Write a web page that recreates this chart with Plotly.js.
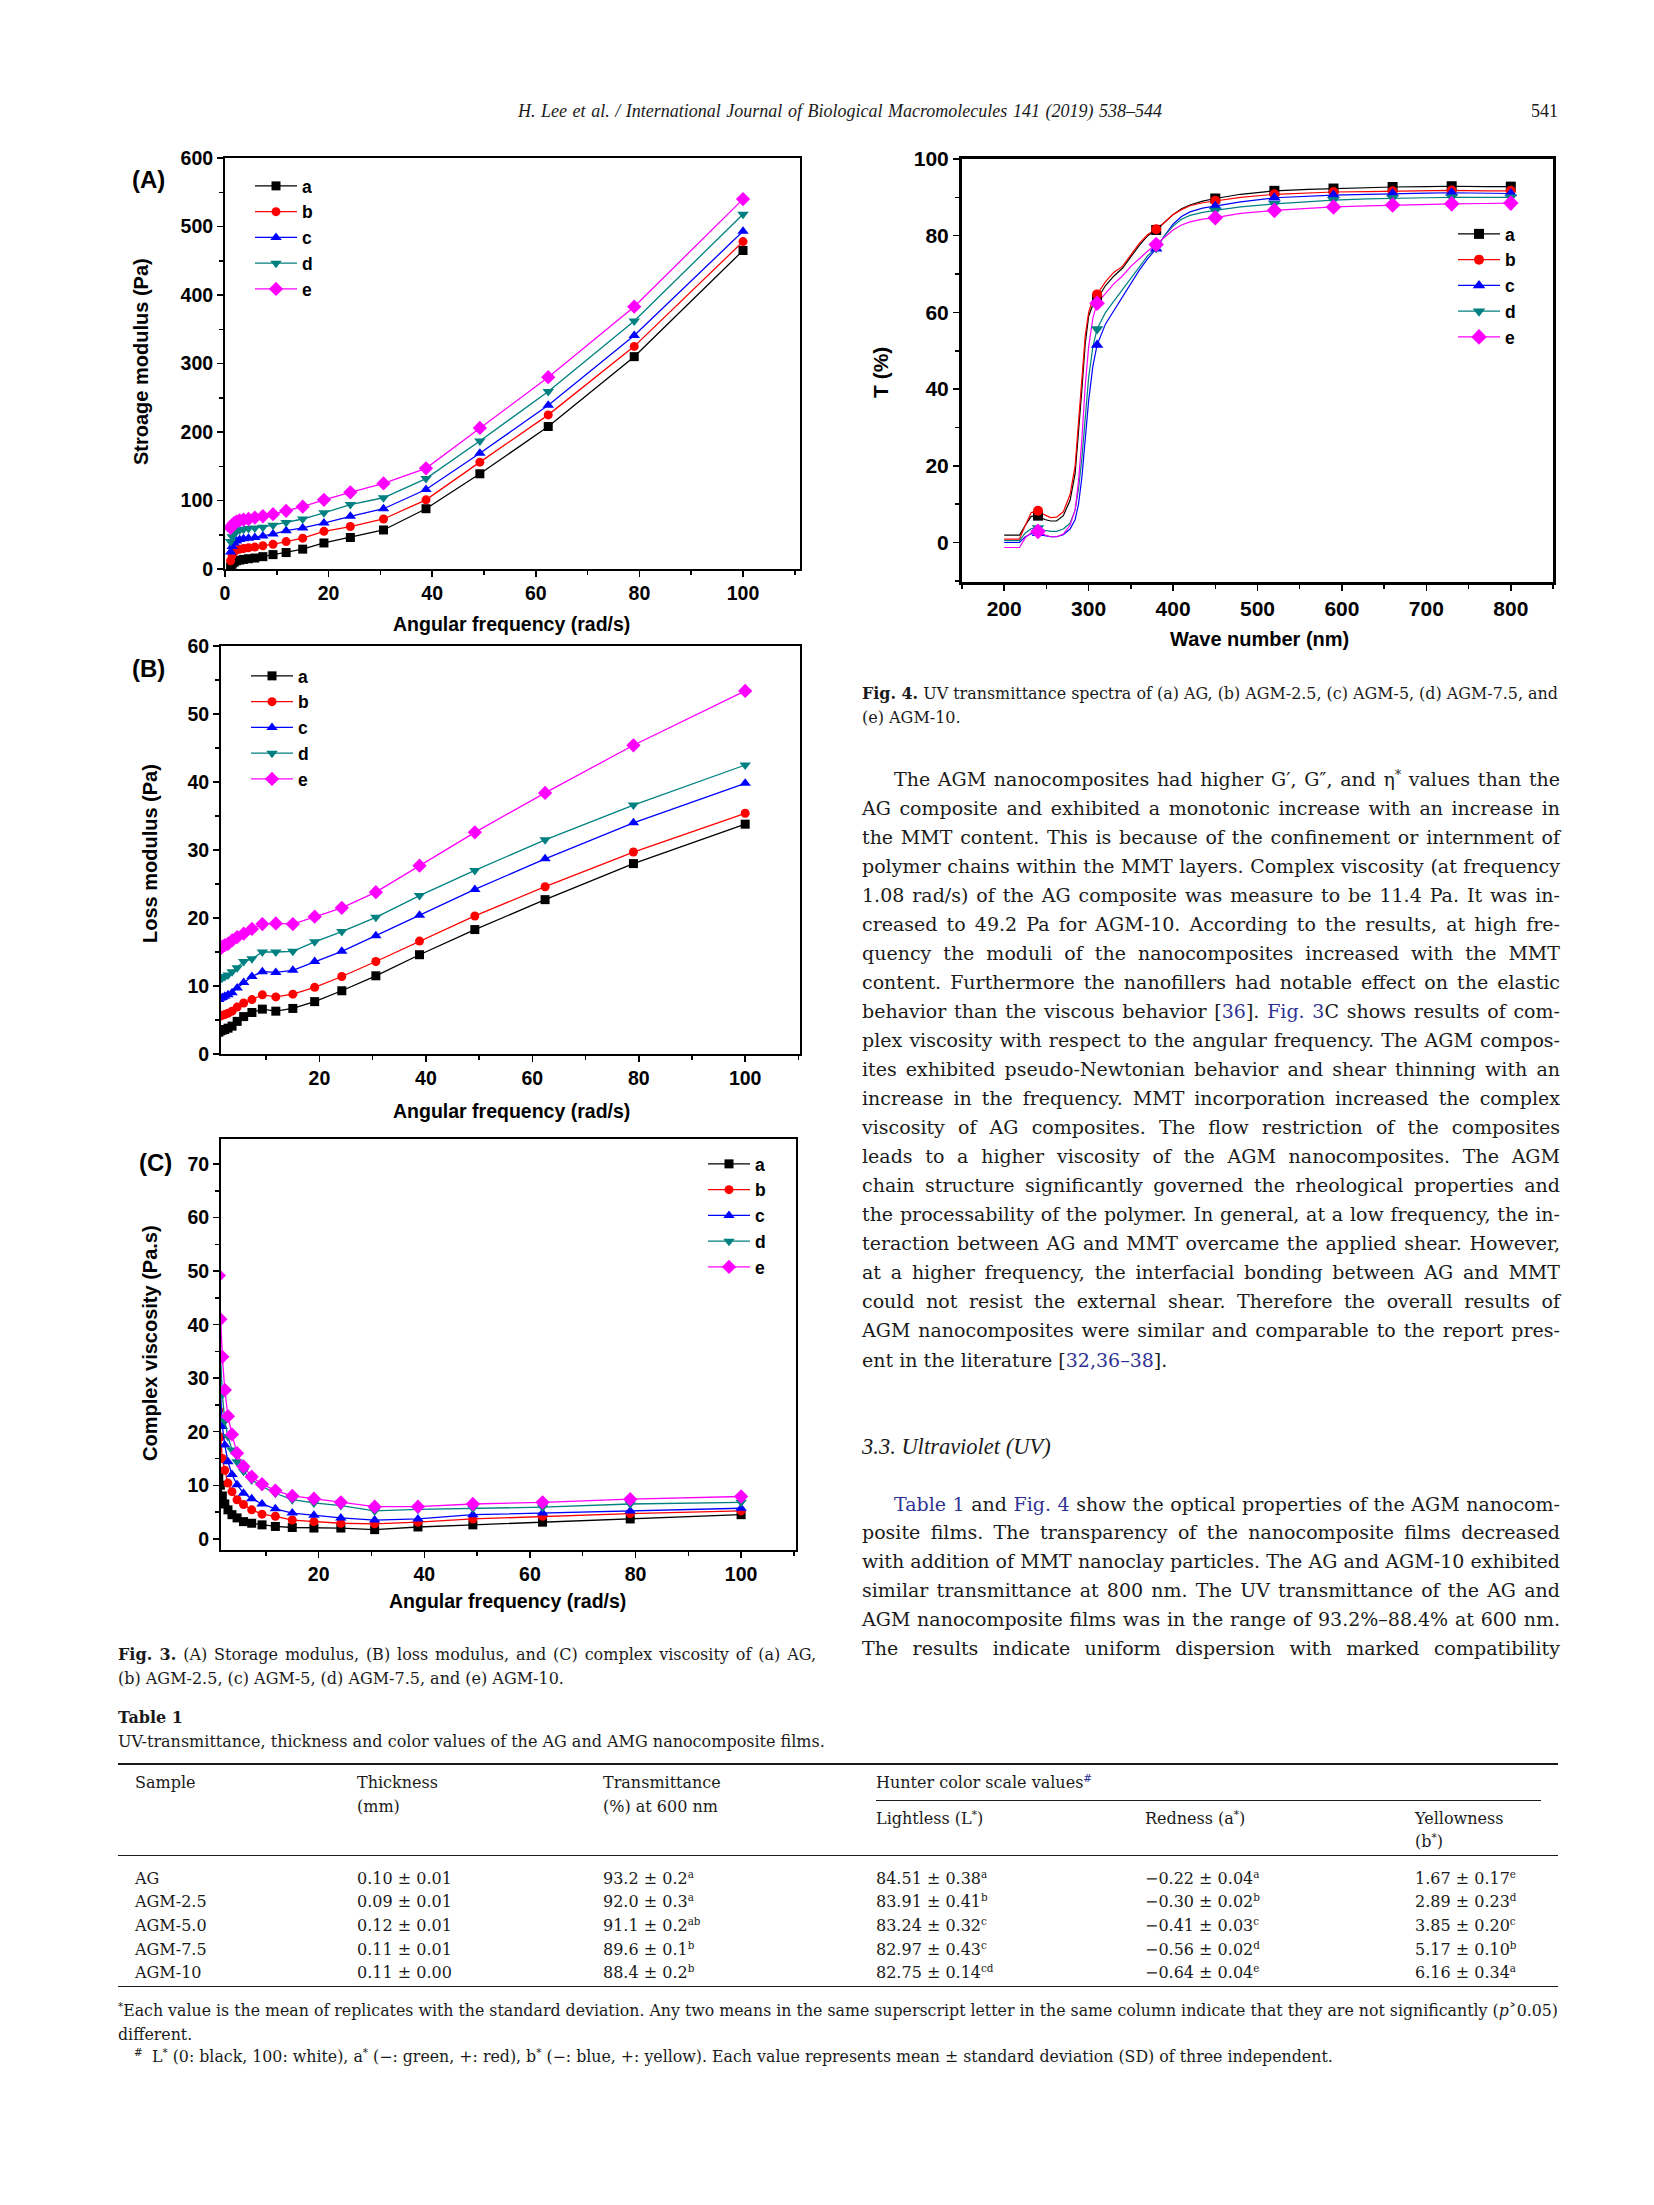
<!DOCTYPE html>
<html><head><meta charset="utf-8">
<script src="https://cdn.plot.ly/plotly-3.0.1.min.js"></script>
<style>
body{margin:0;background:#fff;}
#page{position:relative;width:1654px;height:2205px;overflow:hidden;background:#fff;}
#plot{position:absolute;left:0;top:0;width:1654px;height:2205px;}
.tx{position:absolute;white-space:nowrap;color:#1a1a1a;font-family:"DejaVu Serif",serif;}
.lib{font-family:"Liberation Serif","Times New Roman",serif;}
.tx span.l{display:inline-block;}
.lk{color:#2e3192;}
sup{font-size:65%;line-height:0;vertical-align:0.55em;}
.rule{position:absolute;background:#1a1a1a;}
</style></head>
<body><div id="page"><div id="plot"></div></div>
<script>
// ---------------- DATA ----------------
const seriesNames = ['a','b','c','d','e'];
const freq = [1.08, 1.38, 1.75, 2.22, 2.82, 3.58, 4.54, 5.76, 7.31, 9.27, 11.8, 15.0, 19.1, 24.2, 30.6, 38.8, 49.2, 62.4, 79.0, 100];
// (A) storage modulus (Pa)
const gA_a = [3, 7, 10, 12, 13, 14, 15, 16, 18, 21, 24, 29, 38, 46, 57, 88, 139, 208, 310, 465];
const gA_b = [12, 20, 25, 28, 29, 30, 31, 32, 34, 36, 40, 45, 55, 62, 73, 101, 156, 225, 325, 478];
const gA_c = [25, 33, 38, 41, 43, 44, 45, 46, 48, 51, 56, 60, 67, 77, 88, 116, 169, 239, 341, 493];
const gA_d = [40, 47, 52, 55, 57, 58, 59, 60, 61, 64, 68, 73, 82, 94, 104, 132, 187, 259, 362, 518];
const gA_e = [60, 64, 67, 69, 71, 72, 73, 75, 77, 80, 85, 91, 101, 112, 125, 147, 206, 280, 383, 540];
// (B) loss modulus (Pa)
const gB_a = [3.2, 3.4, 3.5, 3.6, 3.8, 4.1, 4.8, 5.5, 6.1, 6.6, 6.3, 6.7, 7.7, 9.3, 11.5, 14.6, 18.3, 22.7, 28.0, 33.8];
const gB_b = [5.5, 5.6, 5.7, 5.8, 6.0, 6.3, 6.9, 7.5, 8.0, 8.7, 8.4, 8.8, 9.8, 11.4, 13.6, 16.6, 20.3, 24.6, 29.7, 35.4];
const gB_c = [8.0, 8.2, 8.3, 8.5, 8.7, 9.0, 9.7, 10.5, 11.4, 12.1, 12.0, 12.3, 13.6, 15.1, 17.4, 20.4, 24.2, 28.7, 34.0, 39.8];
const gB_d = [10.8, 11.0, 11.2, 11.4, 11.6, 12.1, 12.7, 13.6, 14.0, 15.0, 15.0, 15.1, 16.5, 18.0, 20.1, 23.3, 27.0, 31.5, 36.6, 42.5];
const gB_e = [15.3, 15.5, 15.8, 16.0, 16.2, 16.7, 17.2, 17.7, 18.4, 19.1, 19.2, 19.1, 20.2, 21.5, 23.8, 27.7, 32.6, 38.4, 45.4, 53.4];
// (C) complex viscosity (Pa.s)
const vC_a = [11.4, 10.0, 8.0, 6.5, 5.4, 4.5, 3.9, 3.2, 2.9, 2.6, 2.3, 2.1, 2.0, 2.0, 1.7, 2.2, 2.6, 3.1, 3.7, 4.5];
const vC_b = [24.0, 19.0, 15.0, 12.8, 10.4, 8.8, 7.3, 6.4, 5.4, 4.6, 4.2, 3.5, 3.2, 2.9, 2.8, 3.1, 3.7, 4.2, 4.7, 5.2];
const vC_c = [34.0, 27.0, 21.0, 17.5, 14.4, 12.0, 10.1, 8.5, 7.5, 6.5, 5.6, 4.8, 4.4, 3.9, 3.5, 3.7, 4.5, 4.8, 5.2, 5.7];
const vC_d = [41.0, 34.0, 27.0, 22.0, 19.1, 16.6, 14.4, 12.6, 11.0, 9.8, 8.5, 7.3, 6.7, 6.2, 5.2, 5.5, 5.7, 5.9, 6.5, 6.8];
const vC_e = [49.2, 41.0, 34.0, 27.8, 22.9, 19.5, 16.0, 13.5, 11.6, 10.2, 9.0, 8.0, 7.5, 6.8, 6.0, 6.0, 6.5, 6.8, 7.4, 7.9];
// Fig. 4 UV transmittance (%) spectra
const wl = [200, 210, 218, 225, 232, 240, 248, 255, 262, 270, 278, 284, 288, 292, 296, 300, 305, 310, 320, 330, 340, 350, 360, 370, 380, 390, 400, 410, 420, 435, 450, 480, 520, 560, 590, 630, 660, 700, 730, 770, 800];
const uv_a = [1.9,1.9,1.9,4.5,6.8, 7.0,6.0,5.6,5.6,7.0, 11,18,28,40,52, 59,62,63.5,67,69.5, 71.5,74.5,77.5,80,81.5, 83.5,85.5,87,88,89, 89.7,90.8,91.7,92.1,92.3, 92.5,92.7,92.8,92.9,92.8, 92.8];
const uv_b = [0.9,0.9,0.9,4.5,7.8, 8.3,7.2,6.5,6.6,8.0, 12.5,20,31,43,54, 60,63.5,64.7,68,70.5, 72,75,78,80.3,81.7, 83.5,85.5,86.8,87.8,88.6, 89.1,90.0,90.8,91.2,91.4, 91.5,91.6,91.7,91.8,91.7, 91.7];
const uv_c = [0.0,0.0,0.0,1.5,2.3, 2.4,1.8,1.5,1.5,2.0, 3.5,6,10,17,27, 37,46,51.5,57,60.5, 64,67.5,71,74,76.6, 80,83,85,86.2,87.2, 87.7,88.8,89.9,90.3,90.6, 90.8,91.0,91.1,91.2,91.1, 91.0];
const uv_d = [0.5,0.5,0.5,2.5,3.6, 3.8,3.2,2.9,2.9,3.5, 5,8.5,14,22,33, 43,51,55.7,60,63, 66,69,72,74.8,76.8, 80,82.5,84.3,85.3,86.1, 86.6,87.5,88.3,88.9,89.3, 89.6,89.8,89.9,90.0,90.0, 90.0];
const uv_e = [-1.3,-1.3,-1.3,1.2,2.6, 2.9,2.0,1.5,1.5,2.2, 4.5,8.5,16,27,41, 51,58.5,62.4,65,67.5, 69.5,72,74,76,77.7, 79.5,81.5,82.8,83.6,84.3, 84.7,85.8,86.6,87.1,87.5, 87.8,88.0,88.2,88.3,88.4, 88.5];
const wlMark = [240, 310, 380, 450, 520, 590, 660, 730, 800];
const uvM_a = [7.0, 63.5, 81.5, 89.7, 91.7, 92.3, 92.7, 92.9, 92.8];
const uvM_b = [8.3, 64.7, 81.7, 89.1, 90.8, 91.4, 91.6, 91.8, 91.7];
const uvM_c = [2.4, 51.5, 76.6, 87.7, 89.9, 90.6, 91.0, 91.2, 91.0];
const uvM_d = [3.8, 55.7, 76.8, 86.6, 88.3, 89.3, 89.8, 90.0, 90.0];
const uvM_e = [2.9, 62.4, 77.7, 84.7, 86.6, 87.5, 88.0, 88.3, 88.5];
// Table 1
const tSample = ['AG','AGM-2.5','AGM-5.0','AGM-7.5','AGM-10'];
const tThick = ['0.10 ± 0.01','0.09 ± 0.01','0.12 ± 0.01','0.11 ± 0.01','0.11 ± 0.00'];
const tTrans = ['93.2 ± 0.2<sup>a</sup>','92.0 ± 0.3<sup>a</sup>','91.1 ± 0.2<sup>ab</sup>','89.6 ± 0.1<sup>b</sup>','88.4 ± 0.2<sup>b</sup>'];
const tL = ['84.51 ± 0.38<sup>a</sup>','83.91 ± 0.41<sup>b</sup>','83.24 ± 0.32<sup>c</sup>','82.97 ± 0.43<sup>c</sup>','82.75 ± 0.14<sup>cd</sup>'];
const tA = ['−0.22 ± 0.04<sup>a</sup>','−0.30 ± 0.02<sup>b</sup>','−0.41 ± 0.03<sup>c</sup>','−0.56 ± 0.02<sup>d</sup>','−0.64 ± 0.04<sup>e</sup>'];
const tB = ['1.67 ± 0.17<sup>e</sup>','2.89 ± 0.23<sup>d</sup>','3.85 ± 0.20<sup>c</sup>','5.17 ± 0.10<sup>b</sup>','6.16 ± 0.34<sup>a</sup>'];

// ---------------- STYLE ----------------
const colors = ['#000000','#ff0000','#0000ff','#008080','#ff00ff'];
const symbols = ['square','circle','triangle-up','triangle-down','diamond'];
const msizes = [9, 9, 10, 10, 11];
const W = 1654, H = 2205;
const SANS = '"Liberation Sans", Arial, sans-serif';
function dx(l, r){ return [l/W, r/W]; }
function dy(t, b){ return [1-b/H, 1-t/H]; }
function px(x){ return x/W; }
function py(y){ return 1-y/H; }
function axis(dom, range, dtick, mdtick, anchor, lw, fs){
  return {domain: dom, range: range, anchor: anchor, dtick: dtick, tick0: 0,
    showline: true, linewidth: lw, linecolor: '#000', mirror: true,
    ticks: 'outside', ticklen: 6, tickwidth: 1.5, tickcolor: '#000',
    showgrid: false, zeroline: false, fixedrange: true,
    tickfont: {family: SANS, size: fs, color: '#000', weight: 'bold'},
    minor: {dtick: mdtick, tick0: 0, ticks: 'outside', ticklen: 4, tickwidth: 1.5, tickcolor: '#000', showgrid: false}};
}

const traces = [];
function addSet(ys, xa, ya, leg){
  ys.forEach((y, i) => traces.push({
    type: 'scatter', mode: 'lines+markers', x: freq, y: y, name: seriesNames[i],
    xaxis: xa, yaxis: ya, legend: leg, cliponaxis: true,
    line: {color: colors[i], width: 1.3},
    marker: {symbol: symbols[i], size: msizes[i], color: colors[i]}
  }));
}
addSet([gA_a, gA_b, gA_c, gA_d, gA_e], 'x', 'y', 'legend');
addSet([gB_a, gB_b, gB_c, gB_d, gB_e], 'x2', 'y2', 'legend2');
addSet([vC_a, vC_b, vC_c, vC_d, vC_e], 'x3', 'y3', 'legend3');
const uvL = [uv_a, uv_b, uv_c, uv_d, uv_e];
const uvM = [uvM_a, uvM_b, uvM_c, uvM_d, uvM_e];
uvL.forEach((y, i) => traces.push({type: 'scatter', mode: 'lines', x: wl, y: y, name: seriesNames[i],
  xaxis: 'x4', yaxis: 'y4', showlegend: false, line: {color: colors[i], width: 1.2}}));
uvM.forEach((y, i) => traces.push({type: 'scatter', mode: 'markers', x: wlMark, y: y, name: seriesNames[i],
  xaxis: 'x4', yaxis: 'y4', showlegend: false, marker: {symbol: symbols[i], size: msizes[i]+1, color: colors[i]}}));
seriesNames.forEach((n, i) => traces.push({type: 'scatter', mode: 'lines+markers', x: [null], y: [null], name: n,
  xaxis: 'x4', yaxis: 'y4', legend: 'legend4', showlegend: true,
  line: {color: colors[i], width: 1.2}, marker: {symbol: symbols[i], size: msizes[i]+1, color: colors[i]}}));

const legFont = {family: SANS, size: 17.5, color: '#000', weight: 'bold'};
function leg(x, y){ return {x: px(x), y: py(y), xanchor: 'left', yanchor: 'top', bgcolor: 'rgba(0,0,0,0)',
  borderwidth: 0, font: legFont, tracegroupgap: 0, itemwidth: 42, itemclick: false, itemdoubleclick: false}; }

function ann(x, y, text, size, angle){
  return {xref: 'paper', yref: 'paper', x: px(x), y: py(y), text: text, showarrow: false,
    xanchor: 'center', yanchor: 'middle', textangle: angle || 0,
    font: {family: SANS, size: size, color: '#000', weight: 'bold'}};
}

const layout = {
  width: W, height: H, margin: {l: 0, r: 0, t: 0, b: 0},
  paper_bgcolor: '#fff', plot_bgcolor: '#fff', showlegend: true,
  xaxis: axis(dx(225, 800), [0, 111], 20, 10, 'y', 2, 19.5),
  yaxis: axis(dy(158, 569), [0, 600], 100, 50, 'x', 2, 19.5),
  xaxis2: axis(dx(221, 800), [1.5, 110.3], 20, 10, 'y2', 2, 19.5),
  yaxis2: axis(dy(646, 1054), [0, 60], 10, 5, 'x2', 2, 19.5),
  xaxis3: axis(dx(221, 796), [1.5, 110.4], 20, 10, 'y3', 2, 19.5),
  yaxis3: axis(dy(1139, 1550), [-2.1, 74.7], 10, 5, 'x3', 2, 19.5),
  xaxis4: axis(dx(962, 1553), [150, 850], 100, 50, 'y4', 3, 21),
  yaxis4: axis(dy(159, 582), [-10.3, 100], 20, 10, 'x4', 3, 21),
  legend: leg(250, 168),
  legend2: leg(246, 658),
  legend3: leg(703, 1146),
  legend4: leg(1453, 216),
  annotations: [
    ann(141, 362, 'Stroage modulus (Pa)', 20, -90),
    ann(511, 624, 'Angular frequency (rad/s)', 19.5),
    ann(148, 179, '(A)', 24),
    ann(150, 854, 'Loss modulus (Pa)', 20, -90),
    ann(511, 1111, 'Angular frequency (rad/s)', 19.5),
    ann(148, 668, '(B)', 24),
    ann(150, 1343, 'Complex viscosity (Pa.s)', 20, -90),
    ann(508, 1601, 'Angular frequency (rad/s)', 19.5),
    ann(155, 1162, '(C)', 24),
    ann(880, 373, 'T (%)', 21, -90),
    ann(1259, 639, 'Wave number (nm)', 20)
  ]
};
Plotly.newPlot('plot', traces, layout, {staticPlot: true, displayModeBar: false});

// ---------------- PAGE TEXT ----------------
const page = document.getElementById('page');
const fitList = [];
function addText(x, cy, html, o){
  o = o || {};
  const size = o.size || 19;
  const lh = Math.round(size * 1.3);
  const d = document.createElement('div');
  d.className = 'tx' + (o.lib ? ' lib' : '');
  d.style.top = (cy - lh/2) + 'px';
  if (o.right !== undefined) d.style.right = (W - o.right) + 'px'; else d.style.left = x + 'px';
  d.style.fontSize = size + 'px'; d.style.lineHeight = lh + 'px';
  if (o.italic) d.style.fontStyle = 'italic';
  if (o.bold) d.style.fontWeight = 'bold';
  const s = document.createElement('span'); s.className = 'l'; s.innerHTML = html; d.appendChild(s);
  page.appendChild(d);
  if (o.w) fitList.push({s: s, w: o.w, just: o.just !== false});
  return d;
}
function rule(x, y, w, h){ const r = document.createElement('div'); r.className = 'rule';
  r.style.left = x + 'px'; r.style.top = y + 'px'; r.style.width = w + 'px'; r.style.height = h + 'px'; page.appendChild(r); }
function fitAll(){
  fitList.forEach(f => {
    f.s.style.wordSpacing = '0px'; f.s.style.transform = 'none';
    const w = f.s.getBoundingClientRect().width;
    const n = (f.s.textContent.match(/ /g) || []).length;
    if (w > f.w) { f.s.style.transformOrigin = '0 50%'; f.s.style.transform = 'scaleX(' + (f.w / w) + ')'; }
    else if (f.just && n > 0) { f.s.style.wordSpacing = ((f.w - w) / n) + 'px'; }
  });
}

// running header
addText(518, 111, 'H. Lee et al. / International Journal of Biological Macromolecules 141 (2019) 538–544', {size: 18, italic: true, lib: true, w: 644});
addText(0, 111, '541', {size: 18, lib: true, right: 1558});

// Fig. 4 caption
addText(862, 693, '<b>Fig. 4.</b> UV transmittance spectra of (a) AG, (b) AGM-2.5, (c) AGM-5, (d) AGM-7.5, and', {size: 16, w: 696});
addText(862, 717, '(e) AGM-10.', {size: 16});

// paragraph 1
const p1 = [
  'The AGM nanocomposites had higher G′, G″, and η<sup>*</sup> values than the',
  'AG composite and exhibited a monotonic increase with an increase in',
  'the MMT content. This is because of the confinement or internment of',
  'polymer chains within the MMT layers. Complex viscosity (at frequency',
  '1.08 rad/s) of the AG composite was measure to be 11.4 Pa. It was in-',
  'creased to 49.2 Pa for AGM-10. According to the results, at high fre-',
  'quency the moduli of the nanocomposites increased with the MMT',
  'content. Furthermore the nanofillers had notable effect on the elastic',
  'behavior than the viscous behavior [<span class="lk">36</span>]. <span class="lk">Fig. 3</span>C shows results of com-',
  'plex viscosity with respect to the angular frequency. The AGM compos-',
  'ites exhibited pseudo-Newtonian behavior and shear thinning with an',
  'increase in the frequency. MMT incorporation increased the complex',
  'viscosity of AG composites. The flow restriction of the composites',
  'leads to a higher viscosity of the AGM nanocomposites. The AGM',
  'chain structure significantly governed the rheological properties and',
  'the processability of the polymer. In general, at a low frequency, the in-',
  'teraction between AG and MMT overcame the applied shear. However,',
  'at a higher frequency, the interfacial bonding between AG and MMT',
  'could not resist the external shear. Therefore the overall results of',
  'AGM nanocomposites were similar and comparable to the report pres-',
  'ent in the literature [<span class="lk">32,36–38</span>].'
];
p1.forEach((t, i) => {
  const last = i === p1.length - 1;
  const ind = i === 0 ? 32 : 0;
  addText(862 + ind, 779 + 29.05 * i, t, {size: 19, w: last ? undefined : 698 - ind});
});

addText(862, 1446, '3.3. Ultraviolet (UV)', {size: 22.5, italic: true, lib: true});

const p2 = [
  '<span class="lk">Table 1</span> and <span class="lk">Fig. 4</span> show the optical properties of the AGM nanocom-',
  'posite films. The transparency of the nanocomposite films decreased',
  'with addition of MMT nanoclay particles. The AG and AGM-10 exhibited',
  'similar transmittance at 800 nm. The UV transmittance of the AG and',
  'AGM nanocomposite films was in the range of 93.2%–88.4% at 600 nm.',
  'The results indicate uniform dispersion with marked compatibility'
];
p2.forEach((t, i) => {
  const ind = i === 0 ? 32 : 0;
  addText(862 + ind, 1504 + 28.9 * i, t, {size: 19, w: 698 - ind});
});

// Fig. 3 caption
addText(118, 1654, '<b>Fig. 3.</b> (A) Storage modulus, (B) loss modulus, and (C) complex viscosity of (a) AG,', {size: 16, w: 698});
addText(118, 1678, '(b) AGM-2.5, (c) AGM-5, (d) AGM-7.5, and (e) AGM-10.', {size: 16});

// Table 1
addText(118, 1717, '<b>Table 1</b>', {size: 16});
addText(118, 1741, 'UV-transmittance, thickness and color values of the AG and AMG nanocomposite films.', {size: 16});
rule(118, 1763, 1440, 2);
addText(135, 1782, 'Sample', {size: 16});
addText(357, 1782, 'Thickness', {size: 16});
addText(357, 1806, '(mm)', {size: 16});
addText(603, 1782, 'Transmittance', {size: 16});
addText(603, 1806, '(%) at 600 nm', {size: 16});
addText(876, 1782, 'Hunter color scale values<sup class="lk">#</sup>', {size: 16});
rule(876, 1800, 665, 1);
addText(876, 1818, 'Lightless (L<sup>*</sup>)', {size: 16});
addText(1145, 1818, 'Redness (a<sup>*</sup>)', {size: 16});
addText(1415, 1818, 'Yellowness', {size: 16});
addText(1415, 1841, '(b<sup>*</sup>)', {size: 16});
rule(118, 1855, 1440, 1);
tSample.forEach((s, i) => {
  const cy = 1878 + 23.7 * i;
  addText(135, cy, s, {size: 16});
  addText(357, cy, tThick[i], {size: 16});
  addText(603, cy, tTrans[i], {size: 16});
  addText(876, cy, tL[i], {size: 16});
  addText(1145, cy, tA[i], {size: 16});
  addText(1415, cy, tB[i], {size: 16});
});
rule(118, 1986, 1440, 1);
addText(118, 2010, '<sup>*</sup>Each value is the mean of replicates with the standard deviation. Any two means in the same superscript letter in the same column indicate that they are not significantly (<i>p</i>˃0.05)', {size: 15.8, w: 1440});
addText(118, 2034, 'different.', {size: 15.8});
addText(134, 2056, '<sup>#</sup>', {size: 15.8});
addText(152, 2056, 'L<sup>*</sup> (0: black, 100: white), a<sup>*</sup> (−: green, +: red), b<sup>*</sup> (−: blue, +: yellow). Each value represents mean ± standard deviation (SD) of three independent.', {size: 15.8});

fitAll();
if (document.fonts && document.fonts.ready) document.fonts.ready.then(fitAll);
</script>
</body></html>
